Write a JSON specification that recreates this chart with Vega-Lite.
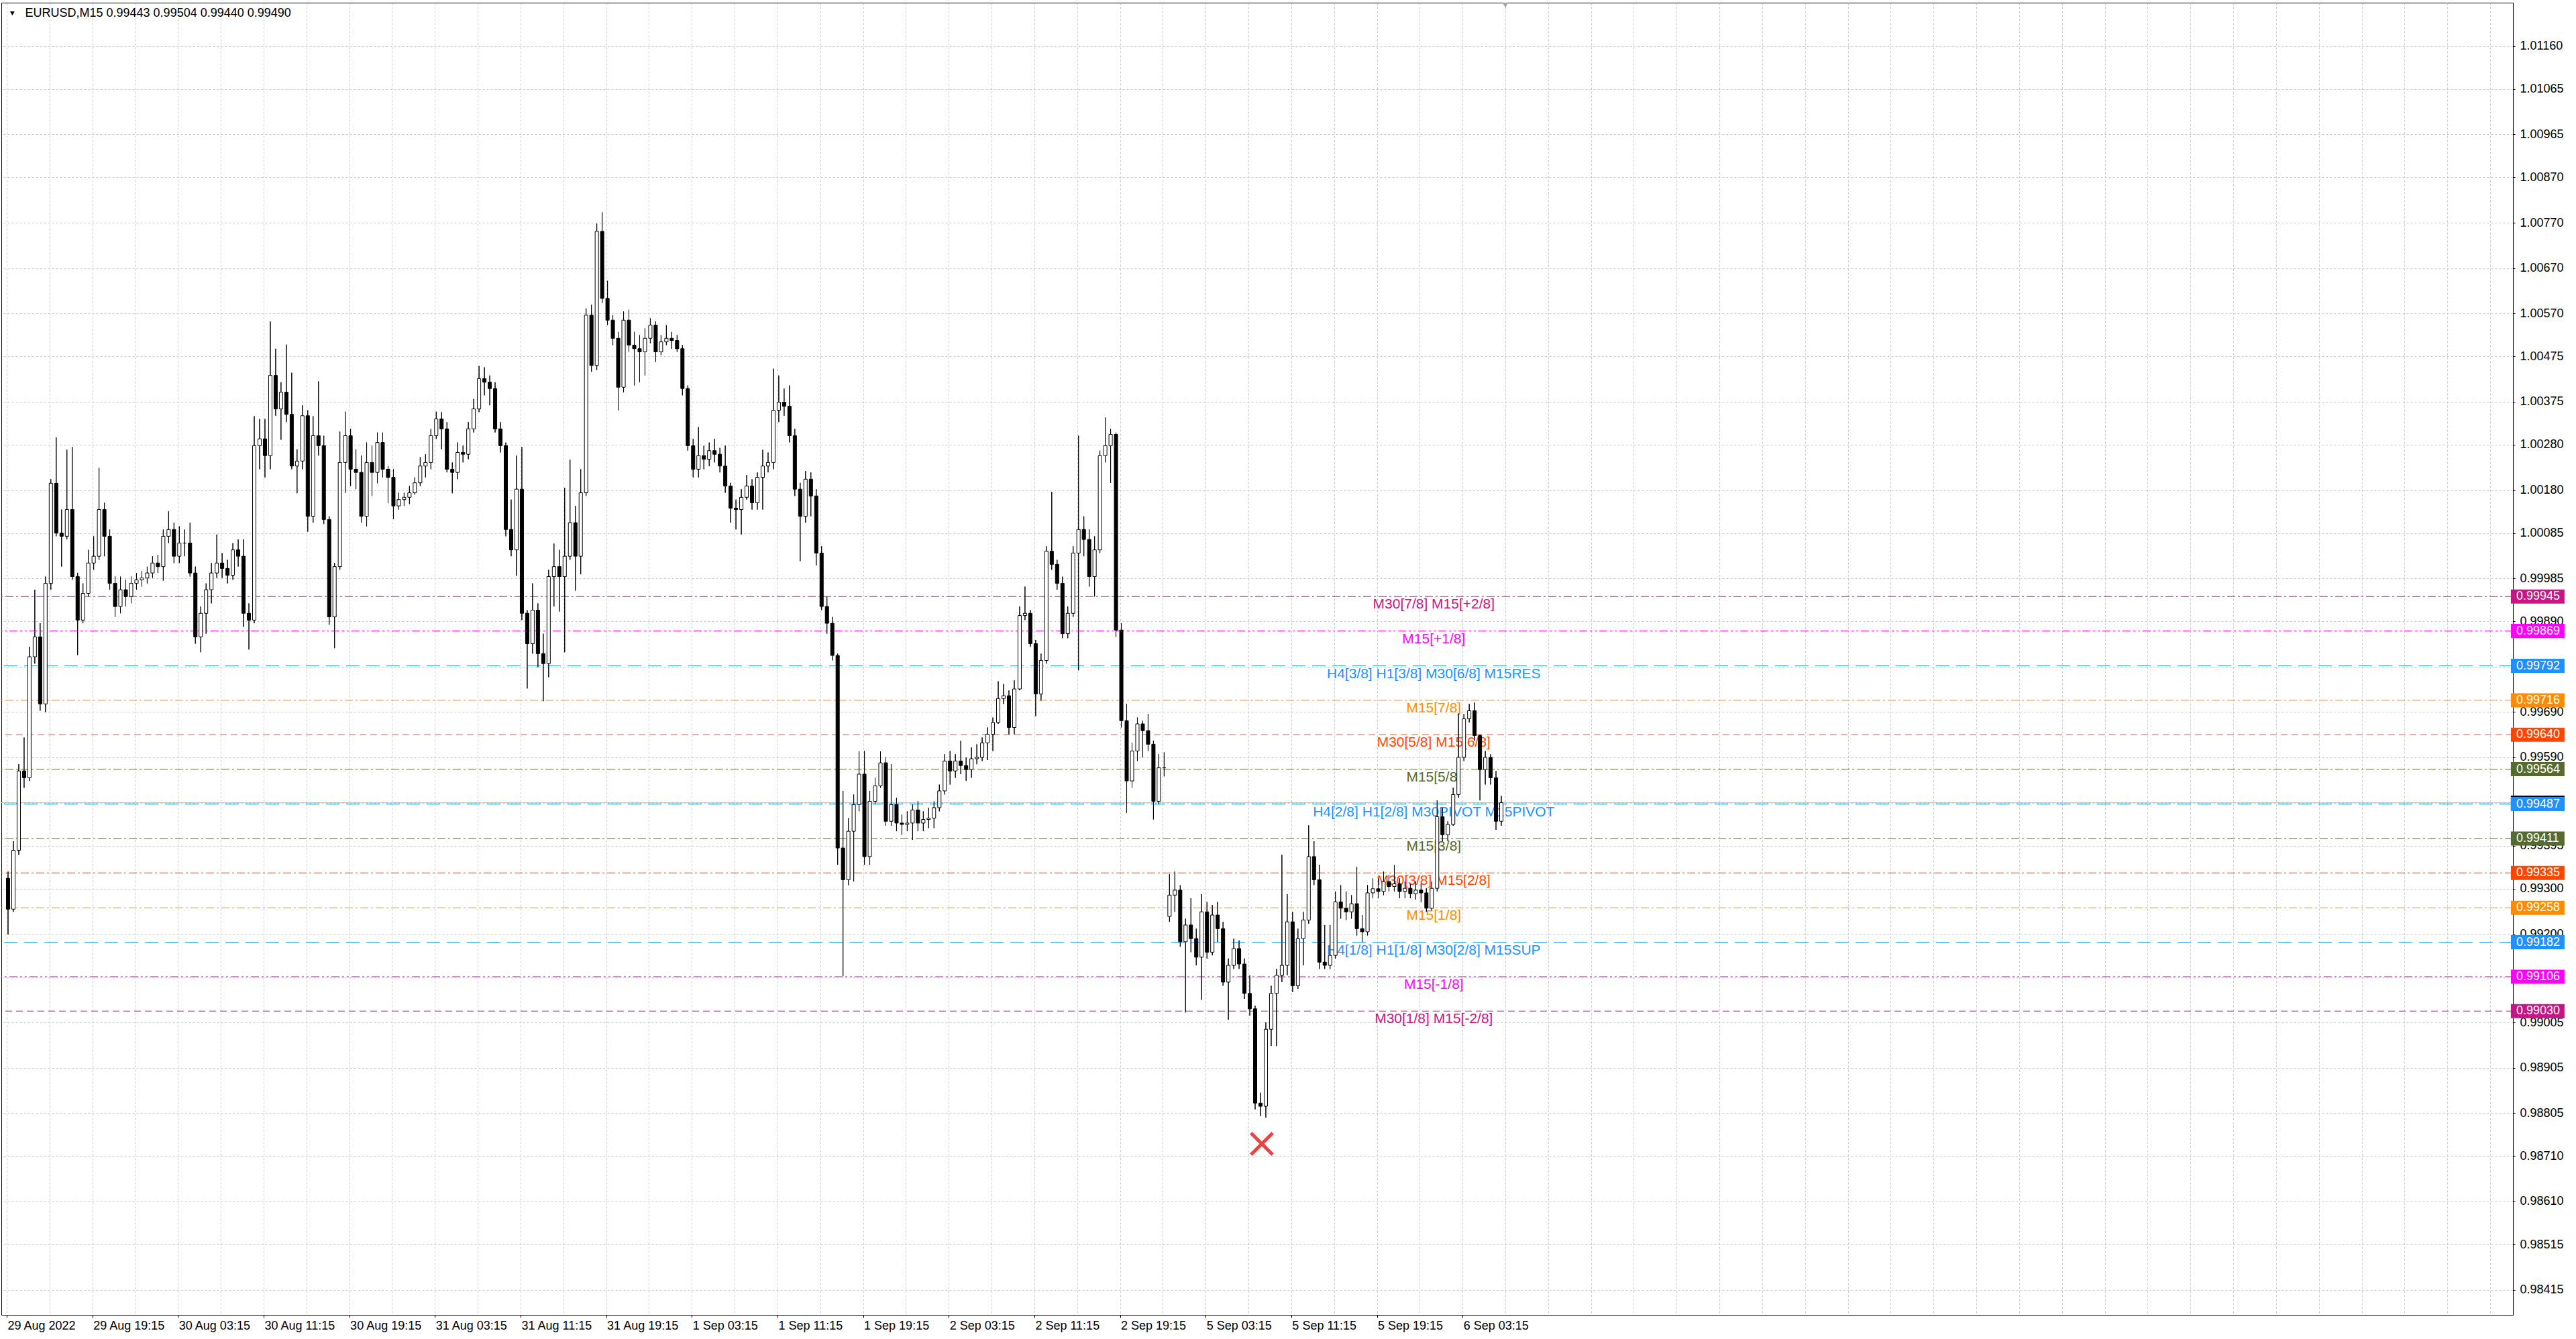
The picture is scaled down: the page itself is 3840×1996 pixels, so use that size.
{
"$schema": "https://vega.github.io/schema/vega-lite/v6.json",
"width": 3744,
"height": 1956,
"autosize": {"type": "none"},
"padding": {"left": 2, "top": 4, "right": 94, "bottom": 36},
"background": "white",
"config": {"view": {"stroke": "black", "strokeWidth": 1}},
"resolve": {"axis": {"x": "independent", "y": "independent"}},
"datasets": {
"levels": [
{"p":0.99945,"name":"M30[7/8] M15[+2/8]"},
{"p":0.99869,"name":"M15[+1/8]"},
{"p":0.99792,"name":"H4[3/8] H1[3/8] M30[6/8] M15RES"},
{"p":0.99716,"name":"M15[7/8]"},
{"p":0.99640,"name":"M30[5/8] M15[6/8]"},
{"p":0.99564,"name":"M15[5/8]"},
{"p":0.99487,"name":"H4[2/8] H1[2/8] M30PIVOT M15PIVOT"},
{"p":0.99411,"name":"M15[3/8]"},
{"p":0.99335,"name":"M30[3/8] M15[2/8]"},
{"p":0.99258,"name":"M15[1/8]"},
{"p":0.99182,"name":"H4[1/8] H1[1/8] M30[2/8] M15SUP"},
{"p":0.99106,"name":"M15[-1/8]"},
{"p":0.99030,"name":"M30[1/8] M15[-2/8]"}
],
"bid": [{"p":0.99490}],
"candles": [
{"i":0,"o":0.99323,"h":0.99338,"l":0.99199,"c":0.99255},
{"i":2,"o":0.99255,"h":0.99405,"l":0.99249,"c":0.99385},
{"i":4,"o":0.99385,"h":0.99575,"l":0.99375,"c":0.99560},
{"i":6,"o":0.99560,"h":0.99634,"l":0.99523,"c":0.99545},
{"i":8,"o":0.99545,"h":0.99834,"l":0.99538,"c":0.99812},
{"i":10,"o":0.99812,"h":0.99960,"l":0.99797,"c":0.99856},
{"i":12,"o":0.99856,"h":0.99886,"l":0.99693,"c":0.99708},
{"i":14,"o":0.99708,"h":0.99989,"l":0.99690,"c":0.99974},
{"i":16,"o":0.99974,"h":1.00204,"l":0.99960,"c":1.00195},
{"i":18,"o":1.00195,"h":1.00296,"l":1.00078,"c":1.00085},
{"i":20,"o":1.00085,"h":1.00137,"l":1.00011,"c":1.00078},
{"i":22,"o":1.00078,"h":1.00269,"l":1.00071,"c":1.00137},
{"i":24,"o":1.00137,"h":1.00275,"l":0.99982,"c":0.99989},
{"i":26,"o":0.99989,"h":0.99997,"l":0.99816,"c":0.99893},
{"i":28,"o":0.99893,"h":0.99974,"l":0.99886,"c":0.99952},
{"i":30,"o":0.99952,"h":1.00048,"l":0.99945,"c":1.00019},
{"i":32,"o":1.00019,"h":1.00078,"l":1.00004,"c":1.00034},
{"i":34,"o":1.00034,"h":1.00229,"l":1.00026,"c":1.00137},
{"i":36,"o":1.00137,"h":1.00152,"l":1.00034,"c":1.00078},
{"i":38,"o":1.00078,"h":1.00093,"l":0.99960,"c":0.99974},
{"i":40,"o":0.99974,"h":0.99989,"l":0.99900,"c":0.99923},
{"i":42,"o":0.99923,"h":0.99989,"l":0.99908,"c":0.99960},
{"i":44,"o":0.99960,"h":0.99982,"l":0.99923,"c":0.99945},
{"i":46,"o":0.99945,"h":0.99989,"l":0.99930,"c":0.99974},
{"i":48,"o":0.99974,"h":0.99997,"l":0.99960,"c":0.99982},
{"i":50,"o":0.99982,"h":1.00001,"l":0.99967,"c":0.99986},
{"i":52,"o":0.99986,"h":1.00011,"l":0.99974,"c":0.99997},
{"i":54,"o":0.99997,"h":1.00034,"l":0.99986,"c":1.00019},
{"i":56,"o":1.00019,"h":1.00037,"l":0.99997,"c":1.00011},
{"i":58,"o":1.00011,"h":1.00093,"l":0.99980,"c":1.00078},
{"i":60,"o":1.00078,"h":1.00133,"l":1.00063,"c":1.00093},
{"i":62,"o":1.00093,"h":1.00108,"l":1.00019,"c":1.00034},
{"i":64,"o":1.00034,"h":1.00100,"l":1.00019,"c":1.00063},
{"i":66,"o":1.00063,"h":1.00093,"l":1.00034,"c":1.00063},
{"i":68,"o":1.00063,"h":1.00108,"l":0.99989,"c":0.99997},
{"i":70,"o":0.99997,"h":1.00011,"l":0.99841,"c":0.99856},
{"i":72,"o":0.99856,"h":0.99923,"l":0.99822,"c":0.99908},
{"i":74,"o":0.99908,"h":0.99974,"l":0.99863,"c":0.99960},
{"i":76,"o":0.99960,"h":1.00019,"l":0.99930,"c":0.99997},
{"i":78,"o":0.99997,"h":1.00082,"l":0.99986,"c":1.00019},
{"i":80,"o":1.00019,"h":1.00041,"l":0.99986,"c":1.00007},
{"i":82,"o":1.00007,"h":1.00026,"l":0.99974,"c":0.99992},
{"i":84,"o":0.99992,"h":1.00063,"l":0.99982,"c":1.00048},
{"i":86,"o":1.00048,"h":1.00071,"l":1.00011,"c":1.00034},
{"i":88,"o":1.00034,"h":1.00071,"l":0.99878,"c":0.99908},
{"i":90,"o":0.99908,"h":0.99930,"l":0.99828,"c":0.99893},
{"i":92,"o":0.99893,"h":1.00343,"l":0.99886,"c":1.00278},
{"i":94,"o":1.00278,"h":1.00337,"l":1.00226,"c":1.00293},
{"i":96,"o":1.00293,"h":1.00337,"l":1.00208,"c":1.00256},
{"i":98,"o":1.00256,"h":1.00552,"l":1.00226,"c":1.00433},
{"i":100,"o":1.00433,"h":1.00492,"l":1.00344,"c":1.00359},
{"i":102,"o":1.00359,"h":1.00418,"l":1.00291,"c":1.00396},
{"i":104,"o":1.00396,"h":1.00501,"l":1.00330,"c":1.00347},
{"i":106,"o":1.00347,"h":1.00439,"l":1.00226,"c":1.00233},
{"i":108,"o":1.00233,"h":1.00270,"l":1.00173,"c":1.00244},
{"i":110,"o":1.00244,"h":1.00367,"l":1.00226,"c":1.00344},
{"i":112,"o":1.00344,"h":1.00356,"l":1.00088,"c":1.00122},
{"i":114,"o":1.00122,"h":1.00343,"l":1.00108,"c":1.00300},
{"i":116,"o":1.00300,"h":1.00420,"l":1.00256,"c":1.00278},
{"i":118,"o":1.00278,"h":1.00300,"l":1.00105,"c":1.00115},
{"i":120,"o":1.00115,"h":1.00122,"l":0.99883,"c":0.99900},
{"i":122,"o":0.99900,"h":1.00019,"l":0.99831,"c":1.00011},
{"i":124,"o":1.00011,"h":1.00309,"l":1.00004,"c":1.00241},
{"i":126,"o":1.00241,"h":1.00353,"l":1.00174,"c":1.00300},
{"i":128,"o":1.00300,"h":1.00315,"l":1.00189,"c":1.00226},
{"i":130,"o":1.00226,"h":1.00270,"l":1.00182,"c":1.00219},
{"i":132,"o":1.00219,"h":1.00256,"l":1.00108,"c":1.00122},
{"i":134,"o":1.00122,"h":1.00285,"l":1.00100,"c":1.00241},
{"i":136,"o":1.00241,"h":1.00278,"l":1.00167,"c":1.00219},
{"i":138,"o":1.00219,"h":1.00307,"l":1.00195,"c":1.00285},
{"i":140,"o":1.00285,"h":1.00307,"l":1.00208,"c":1.00226},
{"i":142,"o":1.00226,"h":1.00233,"l":1.00151,"c":1.00208},
{"i":144,"o":1.00208,"h":1.00226,"l":1.00116,"c":1.00145},
{"i":146,"o":1.00145,"h":1.00174,"l":1.00137,"c":1.00159},
{"i":148,"o":1.00159,"h":1.00174,"l":1.00145,"c":1.00164},
{"i":150,"o":1.00164,"h":1.00189,"l":1.00149,"c":1.00174},
{"i":152,"o":1.00174,"h":1.00208,"l":1.00170,"c":1.00196},
{"i":154,"o":1.00196,"h":1.00253,"l":1.00189,"c":1.00233},
{"i":156,"o":1.00233,"h":1.00259,"l":1.00208,"c":1.00241},
{"i":158,"o":1.00241,"h":1.00315,"l":1.00226,"c":1.00300},
{"i":160,"o":1.00300,"h":1.00353,"l":1.00293,"c":1.00337},
{"i":162,"o":1.00337,"h":1.00352,"l":1.00270,"c":1.00315},
{"i":164,"o":1.00315,"h":1.00330,"l":1.00219,"c":1.00226},
{"i":166,"o":1.00226,"h":1.00241,"l":1.00173,"c":1.00219},
{"i":168,"o":1.00219,"h":1.00285,"l":1.00204,"c":1.00263},
{"i":170,"o":1.00263,"h":1.00278,"l":1.00241,"c":1.00259},
{"i":172,"o":1.00259,"h":1.00330,"l":1.00248,"c":1.00315},
{"i":174,"o":1.00315,"h":1.00381,"l":1.00307,"c":1.00359},
{"i":176,"o":1.00359,"h":1.00454,"l":1.00352,"c":1.00426},
{"i":178,"o":1.00426,"h":1.00451,"l":1.00389,"c":1.00418},
{"i":180,"o":1.00418,"h":1.00433,"l":1.00367,"c":1.00404},
{"i":182,"o":1.00404,"h":1.00418,"l":1.00307,"c":1.00315},
{"i":184,"o":1.00315,"h":1.00330,"l":1.00263,"c":1.00278},
{"i":186,"o":1.00278,"h":1.00285,"l":1.00078,"c":1.00093},
{"i":188,"o":1.00093,"h":1.00159,"l":1.00034,"c":1.00048},
{"i":190,"o":1.00048,"h":1.00256,"l":0.99991,"c":1.00182},
{"i":192,"o":1.00182,"h":1.00275,"l":0.99893,"c":0.99908},
{"i":194,"o":0.99908,"h":0.99915,"l":0.99742,"c":0.99841},
{"i":196,"o":0.99841,"h":0.99974,"l":0.99819,"c":0.99915},
{"i":198,"o":0.99915,"h":0.99930,"l":0.99789,"c":0.99819},
{"i":200,"o":0.99819,"h":0.99863,"l":0.99714,"c":0.99797},
{"i":202,"o":0.99797,"h":1.00004,"l":0.99767,"c":0.99989},
{"i":204,"o":0.99989,"h":1.00062,"l":0.99923,"c":1.00011},
{"i":206,"o":1.00011,"h":1.00048,"l":0.99912,"c":0.99989},
{"i":208,"o":0.99989,"h":1.00185,"l":0.99822,"c":1.00034},
{"i":210,"o":1.00034,"h":1.00247,"l":1.00026,"c":1.00108},
{"i":212,"o":1.00108,"h":1.00145,"l":0.99958,"c":1.00034},
{"i":214,"o":1.00034,"h":1.00226,"l":0.99994,"c":1.00174},
{"i":216,"o":1.00174,"h":1.00581,"l":1.00167,"c":1.00566},
{"i":218,"o":1.00566,"h":1.00589,"l":1.00441,"c":1.00455},
{"i":220,"o":1.00455,"h":1.00768,"l":1.00445,"c":1.00751},
{"i":222,"o":1.00751,"h":1.00793,"l":1.00593,"c":1.00603},
{"i":224,"o":1.00603,"h":1.00642,"l":1.00544,"c":1.00555},
{"i":226,"o":1.00555,"h":1.00566,"l":1.00500,"c":1.00515},
{"i":228,"o":1.00515,"h":1.00529,"l":1.00356,"c":1.00407},
{"i":230,"o":1.00407,"h":1.00574,"l":1.00396,"c":1.00555},
{"i":232,"o":1.00555,"h":1.00578,"l":1.00485,"c":1.00500},
{"i":234,"o":1.00500,"h":1.00529,"l":1.00411,"c":1.00492},
{"i":236,"o":1.00492,"h":1.00522,"l":1.00418,"c":1.00485},
{"i":238,"o":1.00485,"h":1.00537,"l":1.00433,"c":1.00515},
{"i":240,"o":1.00515,"h":1.00559,"l":1.00504,"c":1.00544},
{"i":242,"o":1.00544,"h":1.00552,"l":1.00463,"c":1.00485},
{"i":244,"o":1.00485,"h":1.00522,"l":1.00478,"c":1.00507},
{"i":246,"o":1.00507,"h":1.00544,"l":1.00500,"c":1.00515},
{"i":248,"o":1.00515,"h":1.00529,"l":1.00492,"c":1.00510},
{"i":250,"o":1.00510,"h":1.00522,"l":1.00485,"c":1.00492},
{"i":252,"o":1.00492,"h":1.00500,"l":1.00389,"c":1.00404},
{"i":254,"o":1.00404,"h":1.00411,"l":1.00267,"c":1.00278},
{"i":256,"o":1.00278,"h":1.00293,"l":1.00208,"c":1.00226},
{"i":258,"o":1.00226,"h":1.00319,"l":1.00208,"c":1.00256},
{"i":260,"o":1.00256,"h":1.00278,"l":1.00226,"c":1.00248},
{"i":262,"o":1.00248,"h":1.00285,"l":1.00233,"c":1.00267},
{"i":264,"o":1.00267,"h":1.00293,"l":1.00241,"c":1.00259},
{"i":266,"o":1.00259,"h":1.00273,"l":1.00219,"c":1.00233},
{"i":268,"o":1.00233,"h":1.00278,"l":1.00174,"c":1.00189},
{"i":270,"o":1.00189,"h":1.00196,"l":1.00108,"c":1.00140},
{"i":272,"o":1.00140,"h":1.00159,"l":1.00093,"c":1.00137},
{"i":274,"o":1.00137,"h":1.00182,"l":1.00082,"c":1.00164},
{"i":276,"o":1.00164,"h":1.00213,"l":1.00159,"c":1.00189},
{"i":278,"o":1.00189,"h":1.00204,"l":1.00137,"c":1.00152},
{"i":280,"o":1.00152,"h":1.00219,"l":1.00137,"c":1.00208},
{"i":282,"o":1.00208,"h":1.00269,"l":1.00137,"c":1.00233},
{"i":284,"o":1.00233,"h":1.00263,"l":1.00219,"c":1.00241},
{"i":286,"o":1.00241,"h":1.00448,"l":1.00226,"c":1.00356},
{"i":288,"o":1.00356,"h":1.00433,"l":1.00330,"c":1.00374},
{"i":290,"o":1.00374,"h":1.00404,"l":1.00344,"c":1.00365},
{"i":292,"o":1.00365,"h":1.00411,"l":1.00285,"c":1.00300},
{"i":294,"o":1.00300,"h":1.00315,"l":1.00167,"c":1.00182},
{"i":296,"o":1.00182,"h":1.00196,"l":1.00023,"c":1.00122},
{"i":298,"o":1.00122,"h":1.00222,"l":1.00108,"c":1.00204},
{"i":300,"o":1.00204,"h":1.00219,"l":1.00122,"c":1.00167},
{"i":302,"o":1.00167,"h":1.00182,"l":1.00014,"c":1.00041},
{"i":304,"o":1.00041,"h":1.00056,"l":0.99915,"c":0.99923},
{"i":306,"o":0.99923,"h":0.99945,"l":0.99863,"c":0.99886},
{"i":308,"o":0.99886,"h":0.99900,"l":0.99804,"c":0.99815},
{"i":310,"o":0.99815,"h":0.99819,"l":0.99353,"c":0.99390},
{"i":312,"o":0.99390,"h":0.99516,"l":0.99107,"c":0.99320},
{"i":314,"o":0.99320,"h":0.99456,"l":0.99308,"c":0.99427},
{"i":316,"o":0.99427,"h":0.99508,"l":0.99316,"c":0.99486},
{"i":318,"o":0.99486,"h":0.99603,"l":0.99471,"c":0.99553},
{"i":320,"o":0.99553,"h":0.99604,"l":0.99353,"c":0.99371},
{"i":322,"o":0.99371,"h":0.99516,"l":0.99353,"c":0.99493},
{"i":324,"o":0.99493,"h":0.99545,"l":0.99486,"c":0.99527},
{"i":326,"o":0.99527,"h":0.99603,"l":0.99523,"c":0.99578},
{"i":328,"o":0.99578,"h":0.99590,"l":0.99439,"c":0.99449},
{"i":330,"o":0.99449,"h":0.99575,"l":0.99439,"c":0.99486},
{"i":332,"o":0.99486,"h":0.99501,"l":0.99427,"c":0.99445},
{"i":334,"o":0.99445,"h":0.99464,"l":0.99419,"c":0.99442},
{"i":336,"o":0.99442,"h":0.99471,"l":0.99427,"c":0.99445},
{"i":338,"o":0.99445,"h":0.99486,"l":0.99408,"c":0.99474},
{"i":340,"o":0.99474,"h":0.99493,"l":0.99427,"c":0.99445},
{"i":342,"o":0.99445,"h":0.99471,"l":0.99427,"c":0.99453},
{"i":344,"o":0.99453,"h":0.99479,"l":0.99434,"c":0.99456},
{"i":346,"o":0.99456,"h":0.99493,"l":0.99434,"c":0.99479},
{"i":348,"o":0.99479,"h":0.99530,"l":0.99471,"c":0.99516},
{"i":350,"o":0.99516,"h":0.99597,"l":0.99508,"c":0.99582},
{"i":352,"o":0.99582,"h":0.99604,"l":0.99530,"c":0.99560},
{"i":354,"o":0.99560,"h":0.99597,"l":0.99545,"c":0.99582},
{"i":356,"o":0.99582,"h":0.99627,"l":0.99553,"c":0.99572},
{"i":358,"o":0.99572,"h":0.99590,"l":0.99538,"c":0.99563},
{"i":360,"o":0.99563,"h":0.99612,"l":0.99545,"c":0.99587},
{"i":362,"o":0.99587,"h":0.99619,"l":0.99575,"c":0.99590},
{"i":364,"o":0.99590,"h":0.99634,"l":0.99582,"c":0.99622},
{"i":366,"o":0.99622,"h":0.99656,"l":0.99584,"c":0.99641},
{"i":368,"o":0.99641,"h":0.99678,"l":0.99604,"c":0.99667},
{"i":370,"o":0.99667,"h":0.99758,"l":0.99664,"c":0.99720},
{"i":372,"o":0.99720,"h":0.99752,"l":0.99708,"c":0.99726},
{"i":374,"o":0.99726,"h":0.99738,"l":0.99641,"c":0.99656},
{"i":376,"o":0.99656,"h":0.99760,"l":0.99641,"c":0.99741},
{"i":378,"o":0.99741,"h":0.99923,"l":0.99738,"c":0.99903},
{"i":380,"o":0.99903,"h":0.99967,"l":0.99893,"c":0.99908},
{"i":382,"o":0.99908,"h":0.99915,"l":0.99834,"c":0.99841},
{"i":384,"o":0.99841,"h":0.99849,"l":0.99681,"c":0.99730},
{"i":386,"o":0.99730,"h":0.99819,"l":0.99715,"c":0.99804},
{"i":388,"o":0.99804,"h":1.00056,"l":0.99797,"c":1.00045},
{"i":390,"o":1.00045,"h":1.00176,"l":1.00004,"c":1.00016},
{"i":392,"o":1.00016,"h":1.00026,"l":0.99960,"c":0.99974},
{"i":394,"o":0.99974,"h":0.99989,"l":0.99853,"c":0.99863},
{"i":396,"o":0.99863,"h":0.99923,"l":0.99853,"c":0.99908},
{"i":398,"o":0.99908,"h":1.00056,"l":0.99900,"c":1.00041},
{"i":400,"o":1.00041,"h":1.00300,"l":0.99782,"c":1.00093},
{"i":402,"o":1.00093,"h":1.00122,"l":1.00034,"c":1.00071},
{"i":404,"o":1.00071,"h":1.00093,"l":0.99967,"c":0.99989},
{"i":406,"o":0.99989,"h":1.00078,"l":0.99945,"c":1.00048},
{"i":408,"o":1.00048,"h":1.00267,"l":1.00041,"c":1.00256},
{"i":410,"o":1.00256,"h":1.00340,"l":1.00241,"c":1.00278},
{"i":412,"o":1.00278,"h":1.00315,"l":1.00196,"c":1.00303},
{"i":414,"o":1.00303,"h":1.00307,"l":0.99856,"c":0.99871},
{"i":416,"o":0.99871,"h":0.99886,"l":0.99656,"c":0.99671},
{"i":418,"o":0.99671,"h":0.99708,"l":0.99467,"c":0.99538},
{"i":420,"o":0.99538,"h":0.99622,"l":0.99523,"c":0.99604},
{"i":422,"o":0.99604,"h":0.99678,"l":0.99582,"c":0.99664},
{"i":424,"o":0.99664,"h":0.99671,"l":0.99590,"c":0.99649},
{"i":426,"o":0.99649,"h":0.99686,"l":0.99604,"c":0.99619},
{"i":428,"o":0.99619,"h":0.99627,"l":0.99453,"c":0.99493},
{"i":430,"o":0.99493,"h":0.99597,"l":0.99486,"c":0.99567},
{"i":432,"o":0.99567,"h":0.99601,"l":0.99548,"c":0.99567},
{"i":434,"o":0.99239,"h":0.99332,"l":0.99227,"c":0.99286},
{"i":436,"o":0.99286,"h":0.99338,"l":0.99249,"c":0.99297},
{"i":438,"o":0.99297,"h":0.99308,"l":0.99172,"c":0.99183},
{"i":440,"o":0.99183,"h":0.99234,"l":0.99027,"c":0.99220},
{"i":442,"o":0.99220,"h":0.99279,"l":0.99160,"c":0.99190},
{"i":444,"o":0.99190,"h":0.99212,"l":0.99131,"c":0.99149},
{"i":446,"o":0.99149,"h":0.99288,"l":0.99055,"c":0.99249},
{"i":448,"o":0.99249,"h":0.99271,"l":0.99146,"c":0.99160},
{"i":450,"o":0.99160,"h":0.99264,"l":0.99153,"c":0.99242},
{"i":452,"o":0.99242,"h":0.99271,"l":0.99183,"c":0.99212},
{"i":454,"o":0.99212,"h":0.99227,"l":0.99086,"c":0.99094},
{"i":456,"o":0.99094,"h":0.99146,"l":0.99011,"c":0.99131},
{"i":458,"o":0.99131,"h":0.99190,"l":0.99123,"c":0.99168},
{"i":460,"o":0.99168,"h":0.99186,"l":0.99123,"c":0.99134},
{"i":462,"o":0.99134,"h":0.99146,"l":0.99057,"c":0.99069},
{"i":464,"o":0.99069,"h":0.99109,"l":0.99020,"c":0.99035},
{"i":466,"o":0.99035,"h":0.99042,"l":0.98813,"c":0.98827},
{"i":468,"o":0.98827,"h":0.98850,"l":0.98798,"c":0.98820},
{"i":470,"o":0.98820,"h":0.99005,"l":0.98795,"c":0.98990},
{"i":472,"o":0.98990,"h":0.99086,"l":0.98953,"c":0.99069},
{"i":474,"o":0.99069,"h":0.99123,"l":0.98953,"c":0.99109},
{"i":476,"o":0.99109,"h":0.99375,"l":0.99094,"c":0.99131},
{"i":478,"o":0.99131,"h":0.99288,"l":0.99109,"c":0.99227},
{"i":480,"o":0.99227,"h":0.99249,"l":0.99072,"c":0.99086},
{"i":482,"o":0.99086,"h":0.99212,"l":0.99079,"c":0.99190},
{"i":484,"o":0.99190,"h":0.99249,"l":0.99131,"c":0.99231},
{"i":486,"o":0.99231,"h":0.99440,"l":0.99223,"c":0.99371},
{"i":488,"o":0.99371,"h":0.99405,"l":0.99308,"c":0.99320},
{"i":490,"o":0.99320,"h":0.99353,"l":0.99123,"c":0.99138},
{"i":492,"o":0.99138,"h":0.99220,"l":0.99123,"c":0.99131},
{"i":494,"o":0.99131,"h":0.99220,"l":0.99123,"c":0.99153},
{"i":496,"o":0.99153,"h":0.99294,"l":0.99146,"c":0.99271},
{"i":498,"o":0.99271,"h":0.99308,"l":0.99234,"c":0.99257},
{"i":500,"o":0.99257,"h":0.99294,"l":0.99231,"c":0.99249},
{"i":502,"o":0.99249,"h":0.99286,"l":0.99234,"c":0.99267},
{"i":504,"o":0.99267,"h":0.99348,"l":0.99197,"c":0.99212},
{"i":506,"o":0.99212,"h":0.99242,"l":0.99183,"c":0.99205},
{"i":508,"o":0.99205,"h":0.99308,"l":0.99197,"c":0.99291},
{"i":510,"o":0.99291,"h":0.99323,"l":0.99279,"c":0.99300},
{"i":512,"o":0.99300,"h":0.99323,"l":0.99279,"c":0.99294},
{"i":514,"o":0.99294,"h":0.99338,"l":0.99286,"c":0.99316},
{"i":516,"o":0.99316,"h":0.99331,"l":0.99294,"c":0.99305},
{"i":518,"o":0.99305,"h":0.99353,"l":0.99294,"c":0.99311},
{"i":520,"o":0.99311,"h":0.99323,"l":0.99279,"c":0.99294},
{"i":522,"o":0.99294,"h":0.99316,"l":0.99279,"c":0.99301},
{"i":524,"o":0.99301,"h":0.99311,"l":0.99279,"c":0.99289},
{"i":526,"o":0.99289,"h":0.99316,"l":0.99276,"c":0.99297},
{"i":528,"o":0.99297,"h":0.99311,"l":0.99271,"c":0.99291},
{"i":530,"o":0.99291,"h":0.99301,"l":0.99249,"c":0.99257},
{"i":532,"o":0.99257,"h":0.99316,"l":0.99252,"c":0.99301},
{"i":534,"o":0.99301,"h":0.99495,"l":0.99294,"c":0.99459},
{"i":536,"o":0.99459,"h":0.99479,"l":0.99405,"c":0.99419},
{"i":538,"o":0.99419,"h":0.99449,"l":0.99405,"c":0.99442},
{"i":540,"o":0.99442,"h":0.99523,"l":0.99439,"c":0.99508},
{"i":542,"o":0.99508,"h":0.99687,"l":0.99501,"c":0.99590},
{"i":544,"o":0.99590,"h":0.99686,"l":0.99582,"c":0.99675},
{"i":546,"o":0.99675,"h":0.99708,"l":0.99667,"c":0.99693},
{"i":548,"o":0.99693,"h":0.99711,"l":0.99627,"c":0.99638},
{"i":550,"o":0.99638,"h":0.99641,"l":0.99495,"c":0.99563},
{"i":552,"o":0.99563,"h":0.99604,"l":0.99530,"c":0.99590},
{"i":554,"o":0.99590,"h":0.99597,"l":0.99530,"c":0.99545},
{"i":556,"o":0.99545,"h":0.99560,"l":0.99430,"c":0.99449},
{"i":558,"o":0.99449,"h":0.99505,"l":0.99439,"c":0.99490}
]
},
"layer": [
{
"data": {"name": "candles"},
"mark": {"type": "rule", "color": "black", "strokeWidth": 1, "xOffset": 2},
"encoding": {
"x": {"field": "i", "type": "quantitative",
"scale": {"domain": [-0.75, 935.25], "nice": false, "zero": false},
"axis": {
"title": null,
"values": [0,16,32,48,64,80,96,112,128,144,160,176,192,208,224,240,256,272,288,304,320,336,352,368,384,400,416,432,448,464,480,496,512,528,544,560,576,592,608,624,640,656,672,688,704,720,736,752,768,784,800,816,832,848,864,880,896,912,928],
"labelExpr": "(datum.value % 32 === 0 && datum.value <= 544) ? ['29 Aug 2022','29 Aug 19:15','30 Aug 03:15','30 Aug 11:15','30 Aug 19:15','31 Aug 03:15','31 Aug 11:15','31 Aug 19:15','1 Sep 03:15','1 Sep 11:15','1 Sep 19:15','2 Sep 03:15','2 Sep 11:15','2 Sep 19:15','5 Sep 03:15','5 Sep 11:15','5 Sep 19:15','6 Sep 03:15'][datum.value / 32] : ''",
"labelAlign": "left", "labelBaseline": "top", "labelPadding": 3, "labelOffset": 1,
"labelFont": "Liberation Sans", "labelFontSize": 18, "labelColor": "black",
"labelOverlap": false, "labelFlush": false, "labelBound": false,
"tickSize": 4, "tickColor": "black",
"tickOpacity": {"condition": {"test": "datum.value % 32 === 0 && datum.value <= 544", "value": 1}, "value": 0},
"grid": true, "gridColor": "#C8C8C8", "gridDash": [3, 3], "gridWidth": 1,
"domainColor": "black"
}},
"y": {"field": "l", "type": "quantitative",
"scale": {"domain": [0.983596, 1.012557], "nice": false, "zero": false},
"axis": {
"title": null, "orient": "right",
"values": [1.0116,1.01065,1.00965,1.0087,1.0077,1.0067,1.0057,1.00475,1.00375,1.0028,1.0018,1.00085,0.99985,0.9989,0.9979,0.9969,0.9959,0.9949,0.99395,0.993,0.992,0.99105,0.99005,0.98905,0.98805,0.9871,0.9861,0.98515,0.98415],
"format": ".5f",
"labelAlign": "left", "labelBaseline": "middle", "labelPadding": 7,
"labelFont": "Liberation Sans", "labelFontSize": 18, "labelColor": "black",
"labelOverlap": false, "labelFlush": false, "labelBound": false,
"tickSize": 3, "tickColor": "black",
"grid": true, "gridColor": "#C8C8C8", "gridDash": [3, 3], "gridWidth": 1,
"domainColor": "black"
}},
"y2": {"field": "h"}
}
},
{
"data": {"name": "levels"},
"mark": {"type": "rule", "strokeWidth": 1},
"encoding": {
"y": {"field": "p", "type": "quantitative", "scale": {"domain": [0.983596, 1.012557], "nice": false, "zero": false}, "axis": null},
"color": {"field": "name", "type": "nominal", "legend": null,
"scale": {"domain": ["M30[7/8] M15[+2/8]","M15[+1/8]","H4[3/8] H1[3/8] M30[6/8] M15RES","M15[7/8]","M30[5/8] M15[6/8]","M15[5/8]","H4[2/8] H1[2/8] M30PIVOT M15PIVOT","M15[3/8]","M30[3/8] M15[2/8]","M15[1/8]","H4[1/8] H1[1/8] M30[2/8] M15SUP","M15[-1/8]","M30[1/8] M15[-2/8]"],
"range": ["#C71585","#FF00FF","#1E90FF","#FF8C00","#FF4500","#556B2F","#1E90FF","#556B2F","#FF4500","#FF8C00","#1E90FF","#FF00FF","#C71585"]}},
"strokeDash": {"field": "name", "type": "nominal", "legend": null,
"scale": {"domain": ["M30[7/8] M15[+2/8]","M15[+1/8]","H4[3/8] H1[3/8] M30[6/8] M15RES","M15[7/8]","M30[5/8] M15[6/8]","M15[5/8]","H4[2/8] H1[2/8] M30PIVOT M15PIVOT","M15[3/8]","M30[3/8] M15[2/8]","M15[1/8]","H4[1/8] H1[1/8] M30[2/8] M15SUP","M15[-1/8]","M30[1/8] M15[-2/8]"],
"range": [[12,4,3,4],[12,4,3,4,3,4],[20,10],[12,4,3,4],[10,6],[12,4,3,4],[20,10],[12,4,3,4],[12,4,3,4],[12,4,3,4],[20,10],[12,4,3,4,3,4],[10,6]]}}
}
},
{
"data": {"name": "bid"},
"mark": {"type": "rule", "color": "#C0C0C0", "strokeWidth": 1},
"encoding": {
"y": {"field": "p", "type": "quantitative", "scale": {"domain": [0.983596, 1.012557], "nice": false, "zero": false}, "axis": null}
}
},
{
"data": {"name": "levels"},
"mark": {"type": "text", "align": "center", "baseline": "middle", "dy": 12, "font": "Liberation Sans", "fontSize": 21},
"encoding": {
"x": {"datum": 533.25, "scale": {"domain": [-0.75, 935.25], "nice": false, "zero": false}, "axis": null},
"y": {"field": "p", "type": "quantitative", "scale": {"domain": [0.983596, 1.012557], "nice": false, "zero": false}, "axis": null},
"text": {"field": "name", "type": "nominal"},
"color": {"field": "name", "type": "nominal", "legend": null,
"scale": {"domain": ["M30[7/8] M15[+2/8]","M15[+1/8]","H4[3/8] H1[3/8] M30[6/8] M15RES","M15[7/8]","M30[5/8] M15[6/8]","M15[5/8]","H4[2/8] H1[2/8] M30PIVOT M15PIVOT","M15[3/8]","M30[3/8] M15[2/8]","M15[1/8]","H4[1/8] H1[1/8] M30[2/8] M15SUP","M15[-1/8]","M30[1/8] M15[-2/8]"],
"range": ["#C71585","#FF00FF","#1E90FF","#FF8C00","#FF4500","#556B2F","#1E90FF","#556B2F","#FF4500","#FF8C00","#1E90FF","#FF00FF","#C71585"]}}
}
},
{
"data": {"name": "candles"},
"mark": {"type": "rule", "color": "black", "strokeWidth": 1, "xOffset": 2},
"encoding": {
"x": {"field": "i", "type": "quantitative", "scale": {"domain": [-0.75, 935.25], "nice": false, "zero": false}, "axis": null},
"y": {"field": "l", "type": "quantitative", "scale": {"domain": [0.983596, 1.012557], "nice": false, "zero": false}, "axis": null},
"y2": {"field": "h"}
}
},
{
"data": {"name": "candles"},
"mark": {"type": "bar", "orient": "vertical", "width": 5, "stroke": "black", "strokeWidth": 1, "xOffset": 2},
"encoding": {
"x": {"field": "i", "type": "quantitative", "scale": {"domain": [-0.75, 935.25], "nice": false, "zero": false}, "axis": null},
"y": {"field": "o", "type": "quantitative", "scale": {"domain": [0.983596, 1.012557], "nice": false, "zero": false}, "axis": null},
"y2": {"field": "c"},
"fill": {"condition": {"test": "datum.c >= datum.o", "value": "white"}, "value": "black"}
}
},
{
"data": {"values": [{"k": "low"}]},
"mark": {"type": "point", "shape": "M-1,-0.8L-0.8,-1L0,-0.2L0.8,-1L1,-0.8L0.2,0L1,0.8L0.8,1L0,0.2L-0.8,1L-1,0.8L-0.2,0Z", "filled": true, "size": 1296, "color": "#E84545", "opacity": 1, "strokeWidth": 0},
"encoding": {
"x": {"datum": 469, "scale": {"domain": [-0.75, 935.25], "nice": false, "zero": false}, "axis": null},
"y": {"datum": 0.98737, "scale": {"domain": [0.983596, 1.012557], "nice": false, "zero": false}, "axis": null}
}
},
{
"data": {"values": [{"k": "menu"}]},
"mark": {"type": "point", "shape": "triangle-down", "filled": true, "size": 45, "color": "black", "opacity": 1},
"encoding": {
"x": {"datum": 2.1, "scale": {"domain": [-0.75, 935.25], "nice": false, "zero": false}, "axis": null},
"y": {"datum": 1.01232, "scale": {"domain": [0.983596, 1.012557], "nice": false, "zero": false}, "axis": null}
}
},
{
"data": {"values": [{"t": "EURUSD,M15  0.99443 0.99504 0.99440 0.99490"}]},
"mark": {"type": "text", "align": "left", "baseline": "middle", "font": "Liberation Sans", "fontSize": 18, "color": "black"},
"encoding": {
"x": {"datum": 6.9, "scale": {"domain": [-0.75, 935.25], "nice": false, "zero": false}, "axis": null},
"y": {"datum": 1.01232, "scale": {"domain": [0.983596, 1.012557], "nice": false, "zero": false}, "axis": null},
"text": {"field": "t", "type": "nominal"}
}
},
{
"data": {"values": [{"k": "shift"}]},
"mark": {"type": "point", "shape": "triangle-down", "filled": true, "size": 70, "color": "#A8A8A8", "opacity": 1},
"encoding": {
"x": {"datum": 560, "scale": {"domain": [-0.75, 935.25], "nice": false, "zero": false}, "axis": null},
"y": {"datum": 1.0125, "scale": {"domain": [0.983596, 1.012557], "nice": false, "zero": false}, "axis": null}
}
},
{
"data": {"name": "bid"},
"mark": {"type": "tick", "orient": "horizontal", "thickness": 21, "color": "black", "opacity": 1},
"encoding": {
"x": {"datum": 945.75, "scale": {"domain": [-0.75, 935.25], "nice": false, "zero": false}, "axis": null},
"y": {"field": "p", "type": "quantitative", "scale": {"domain": [0.983596, 1.012557], "nice": false, "zero": false}, "axis": null},
"size": {"value": 80}
}
},
{
"data": {"name": "bid"},
"mark": {"type": "text", "align": "left", "baseline": "middle", "font": "Liberation Sans", "fontSize": 18, "color": "white"},
"encoding": {
"x": {"datum": 937.75, "scale": {"domain": [-0.75, 935.25], "nice": false, "zero": false}, "axis": null},
"y": {"field": "p", "type": "quantitative", "scale": {"domain": [0.983596, 1.012557], "nice": false, "zero": false}, "axis": null},
"text": {"field": "p", "type": "quantitative", "format": ".5f"}
}
},
{
"data": {"name": "levels"},
"mark": {"type": "tick", "orient": "horizontal", "thickness": 21, "opacity": 1},
"encoding": {
"x": {"datum": 945.75, "scale": {"domain": [-0.75, 935.25], "nice": false, "zero": false}, "axis": null},
"y": {"field": "p", "type": "quantitative", "scale": {"domain": [0.983596, 1.012557], "nice": false, "zero": false}, "axis": null},
"size": {"value": 80},
"color": {"field": "name", "type": "nominal", "legend": null,
"scale": {"domain": ["M30[7/8] M15[+2/8]","M15[+1/8]","H4[3/8] H1[3/8] M30[6/8] M15RES","M15[7/8]","M30[5/8] M15[6/8]","M15[5/8]","H4[2/8] H1[2/8] M30PIVOT M15PIVOT","M15[3/8]","M30[3/8] M15[2/8]","M15[1/8]","H4[1/8] H1[1/8] M30[2/8] M15SUP","M15[-1/8]","M30[1/8] M15[-2/8]"],
"range": ["#C71585","#FF00FF","#1E90FF","#FF8C00","#FF4500","#556B2F","#1E90FF","#556B2F","#FF4500","#FF8C00","#1E90FF","#FF00FF","#C71585"]}}
}
},
{
"data": {"name": "levels"},
"mark": {"type": "text", "align": "left", "baseline": "middle", "font": "Liberation Sans", "fontSize": 18, "color": "white"},
"encoding": {
"x": {"datum": 937.75, "scale": {"domain": [-0.75, 935.25], "nice": false, "zero": false}, "axis": null},
"y": {"field": "p", "type": "quantitative", "scale": {"domain": [0.983596, 1.012557], "nice": false, "zero": false}, "axis": null},
"text": {"field": "p", "type": "quantitative", "format": ".5f"}
}
}
]
}
